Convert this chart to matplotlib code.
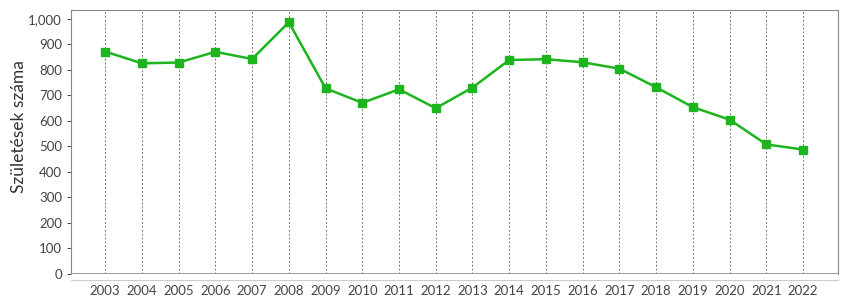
import matplotlib
matplotlib.use("Agg")
from matplotlib import pyplot as plt

years = [2003, 2004, 2005, 2006, 2007, 2008, 2009, 2010, 2011, 2012,
         2013, 2014, 2015, 2016, 2017, 2018, 2019, 2020, 2021, 2022]
births = [872, 826, 829, 871, 843, 987, 728, 671, 724, 650,
          731, 839, 842, 830, 805, 732, 654, 605, 508, 488]
yticks = [0, 100, 200, 300, 400, 500, 600, 700, 800, 900, 1000]
ytick_labels = ['0', '100', '200', '300', '400', '500', '600', '700', '800', '900', '1,000']

plt.rcParams['font.family'] = ['Lato', 'DejaVu Sans']

fig = plt.figure(figsize=(8.5, 3), dpi=100)
ax = fig.add_axes([71/850, 26/300, (838-71)/850, (274-10)/300])

for x in years:
    ax.axvline(x, color='#777777', linestyle=(0, (2, 2)), linewidth=0.7, zorder=1)

ax.plot(years, births, color='#1db51d', linewidth=1.8, marker='s',
        markersize=6, zorder=3)

ax.set_xlim(2002.07, 2022.95)
ax.set_ylim(0, 1035)
ax.set_xticks(years)
ax.set_xticklabels([str(y) for y in years])
ax.set_yticks(yticks)
ax.set_yticklabels(ytick_labels)
ax.set_ylabel('Születések száma', fontsize=12.5, color='#333333')
ax.yaxis.set_label_coords(-0.058, 0.56)

for s in ['top', 'right', 'left']:
    ax.spines[s].set_color('#888888')
ax.axhline(0, color='#888888', linewidth=1.2, zorder=2)
ax.spines['bottom'].set_position(('outward', 4))
ax.spines['bottom'].set_color('#cccccc')

ax.tick_params(axis='y', colors='#555555', labelsize=9.5, length=3, labelcolor='#444444')
ax.tick_params(axis='x', length=0, labelsize=9.5, labelcolor='#444444', pad=4)

fig.savefig('out.png', dpi=100)
